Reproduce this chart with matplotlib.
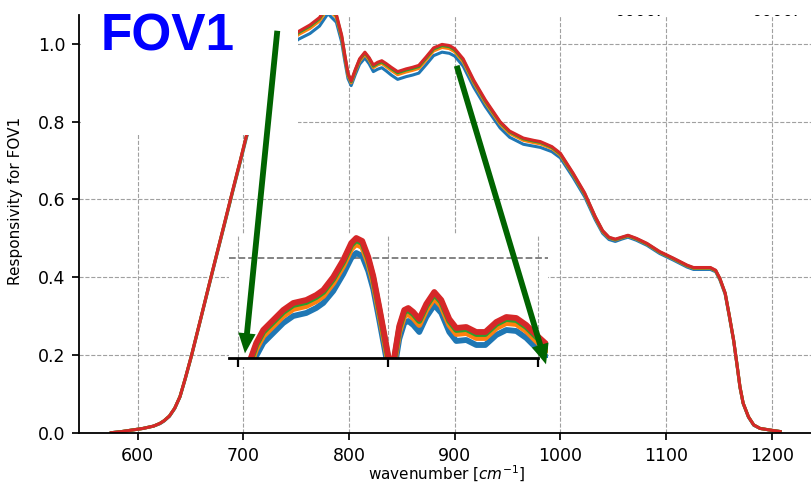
import numpy as np
import matplotlib.pyplot as plt
from matplotlib.patches import Rectangle

# responsivity curves
wavenumber = [575, 585, 595, 605, 615, 621, 625, 630, 635, 640, 645, 651, 660, 668, 675, 682,
              690, 697, 703, 712, 722, 732, 742, 752, 763, 772, 780, 788, 793, 796, 799, 802,
              806, 810, 815, 819, 823, 827, 831, 835, 840, 846, 854, 860, 866, 873, 880, 888,
              895, 900, 908, 918, 929, 943, 952, 965, 975, 981, 992, 1000, 1012, 1023, 1033,
              1040, 1046, 1052, 1058, 1064, 1072, 1082, 1094, 1107, 1120, 1126, 1134, 1142, 1147,
              1151, 1156, 1160, 1164, 1167, 1170, 1173, 1178, 1183, 1189, 1198, 1208]
resp_blue = [0.000, 0.003, 0.007, 0.011, 0.017, 0.023, 0.030, 0.042, 0.062, 0.092, 0.138, 0.198,
             0.296, 0.383, 0.459, 0.534, 0.621, 0.695, 0.760, 0.835, 0.906, 0.958, 0.989, 1.012,
             1.027, 1.046, 1.078, 1.056, 1.005, 0.956, 0.911, 0.893, 0.922, 0.948, 0.964, 0.949,
             0.929, 0.935, 0.939, 0.931, 0.920, 0.909, 0.916, 0.920, 0.925, 0.947, 0.970, 0.979,
             0.976, 0.969, 0.943, 0.889, 0.839, 0.784, 0.760, 0.742, 0.737, 0.734, 0.723, 0.707,
             0.657, 0.607, 0.548, 0.513, 0.497, 0.492, 0.498, 0.503, 0.495, 0.482, 0.461, 0.444,
             0.426, 0.420, 0.420, 0.420, 0.414, 0.393, 0.356, 0.297, 0.236, 0.177, 0.116, 0.075,
             0.040, 0.019, 0.011, 0.007, 0.003]
resp_orange = [0.000, 0.003, 0.007, 0.011, 0.017, 0.024, 0.031, 0.043, 0.063, 0.093, 0.139, 0.199,
               0.297, 0.385, 0.461, 0.536, 0.623, 0.698, 0.764, 0.841, 0.914, 0.968, 1.000, 1.024,
               1.040, 1.059, 1.091, 1.068, 1.016, 0.966, 0.919, 0.900, 0.930, 0.956, 0.973, 0.959,
               0.939, 0.946, 0.950, 0.942, 0.932, 0.921, 0.928, 0.932, 0.937, 0.959, 0.982, 0.991,
               0.988, 0.980, 0.954, 0.900, 0.849, 0.794, 0.770, 0.752, 0.746, 0.743, 0.731, 0.714,
               0.664, 0.613, 0.553, 0.517, 0.501, 0.496, 0.501, 0.506, 0.498, 0.485, 0.464, 0.447,
               0.429, 0.423, 0.423, 0.423, 0.416, 0.395, 0.358, 0.299, 0.237, 0.178, 0.117, 0.076,
               0.041, 0.020, 0.011, 0.007, 0.003]
resp_green = [0.000, 0.003, 0.007, 0.011, 0.017, 0.024, 0.031, 0.043, 0.063, 0.093, 0.140, 0.200,
              0.298, 0.386, 0.462, 0.537, 0.624, 0.699, 0.765, 0.843, 0.918, 0.972, 1.005, 1.029,
              1.046, 1.065, 1.097, 1.073, 1.020, 0.970, 0.923, 0.903, 0.933, 0.960, 0.977, 0.963,
              0.943, 0.950, 0.954, 0.947, 0.937, 0.926, 0.933, 0.937, 0.942, 0.964, 0.987, 0.996,
              0.993, 0.985, 0.959, 0.904, 0.853, 0.798, 0.774, 0.756, 0.750, 0.747, 0.734, 0.717,
              0.666, 0.615, 0.555, 0.519, 0.502, 0.497, 0.502, 0.507, 0.499, 0.486, 0.465, 0.448,
              0.430, 0.424, 0.424, 0.424, 0.417, 0.396, 0.359, 0.300, 0.238, 0.179, 0.118, 0.076,
              0.041, 0.020, 0.011, 0.007, 0.003]
resp_red = [0.000, 0.003, 0.007, 0.011, 0.017, 0.024, 0.031, 0.043, 0.063, 0.093, 0.140, 0.200,
            0.298, 0.386, 0.462, 0.538, 0.625, 0.700, 0.766, 0.845, 0.920, 0.975, 1.008, 1.032,
            1.049, 1.068, 1.100, 1.076, 1.023, 0.972, 0.925, 0.905, 0.935, 0.962, 0.979, 0.965,
            0.946, 0.953, 0.957, 0.950, 0.940, 0.929, 0.936, 0.940, 0.945, 0.967, 0.990, 0.999,
            0.996, 0.988, 0.962, 0.907, 0.856, 0.800, 0.776, 0.758, 0.752, 0.749, 0.736, 0.719,
            0.668, 0.617, 0.556, 0.520, 0.503, 0.498, 0.503, 0.508, 0.500, 0.487, 0.466, 0.449,
            0.431, 0.425, 0.425, 0.425, 0.418, 0.397, 0.359, 0.300, 0.238, 0.179, 0.118, 0.076,
            0.041, 0.020, 0.011, 0.007, 0.003]

# zoomed view of the curve tops (inset)
inset_wavenumber = [700, 706, 713, 718, 725, 735, 745, 755, 768, 778, 785, 795, 805, 813, 818, 824,
                    830, 835, 841, 846, 850, 853, 856, 861, 866, 870, 875, 881, 888, 896, 903, 911,
                    918, 928, 938, 947, 958, 968, 978, 988, 998, 1008]
inset_blue = [0.857, 0.872, 0.888, 0.902, 0.915, 0.925, 0.935, 0.942, 0.945, 0.950, 0.955, 0.967,
              0.984, 1.000, 1.005, 1.002, 0.987, 0.969, 0.938, 0.911, 0.889, 0.872, 0.888, 0.919,
              0.935, 0.937, 0.933, 0.926, 0.941, 0.953, 0.945, 0.926, 0.917, 0.918, 0.913, 0.913,
              0.923, 0.928, 0.927, 0.920, 0.910, 0.901]
inset_orange = [0.864, 0.879, 0.895, 0.909, 0.922, 0.932, 0.942, 0.949, 0.952, 0.957, 0.962, 0.975,
                0.992, 1.009, 1.014, 1.011, 0.995, 0.976, 0.945, 0.918, 0.896, 0.879, 0.895, 0.926,
                0.942, 0.944, 0.940, 0.933, 0.948, 0.960, 0.952, 0.933, 0.924, 0.925, 0.920, 0.920,
                0.930, 0.935, 0.934, 0.927, 0.917, 0.908]
inset_green = [0.868, 0.883, 0.899, 0.913, 0.926, 0.936, 0.946, 0.953, 0.956, 0.961, 0.966, 0.979,
               0.996, 1.013, 1.018, 1.015, 0.999, 0.980, 0.949, 0.922, 0.900, 0.883, 0.899, 0.930,
               0.946, 0.948, 0.944, 0.937, 0.952, 0.964, 0.956, 0.937, 0.928, 0.929, 0.924, 0.924,
               0.934, 0.939, 0.938, 0.931, 0.921, 0.912]
inset_red = [0.870, 0.885, 0.901, 0.915, 0.928, 0.938, 0.948, 0.955, 0.958, 0.963, 0.968, 0.981,
             0.998, 1.015, 1.020, 1.017, 1.001, 0.982, 0.951, 0.924, 0.902, 0.885, 0.901, 0.932,
             0.948, 0.950, 0.946, 0.939, 0.954, 0.966, 0.958, 0.939, 0.930, 0.931, 0.926, 0.926,
             0.936, 0.941, 0.940, 0.933, 0.923, 0.914]

x_ticks = [600, 700, 800, 900, 1000, 1100, 1200]
y_ticks = [0.0, 0.2, 0.4, 0.6, 0.8, 1.0]
inset_ticks = [700, 850, 1000]
colors = ['#1f77b4', '#ff7f0e', '#2ca02c', '#d62728']
arrow_green = '#006400'

fig = plt.figure(figsize=(8.11, 4.82), dpi=100)
ax = fig.add_axes([79.3 / 811, 49.3 / 482, 735.7 / 811, 417.7 / 482])

for y, c in zip([resp_blue, resp_orange, resp_green, resp_red], colors):
    ax.plot(wavenumber, y, color=c, lw=2.2, zorder=2, solid_joinstyle='round')

ax.set_xlim(544.7, 1241)
ax.set_ylim(0, 1.0746)
ax.set_xticks(x_ticks)
ax.set_yticks(y_ticks)
ax.set_yticklabels([f"{v:.1f}" for v in y_ticks])
ax.grid(ls='--', color='#a0a0a0', lw=0.8)
ax.spines[['top', 'right']].set_visible(False)
for s in ['left', 'bottom']:
    ax.spines[s].set_linewidth(1.3)
ax.tick_params(direction='out', length=5, width=1.25, labelsize=12.5, pad=5)

ax.set_xlabel("wavenumber [$cm^{-1}$]", fontsize=11)
ax.xaxis.set_label_coords(0.5, -0.0737)
ax.set_ylabel("Responsivity for FOV1", fontsize=11)
ax.yaxis.set_label_coords(-0.076, 0.555)

# cut-off bits of the panel above
ax.text(1051.7, 1.0708, "0000.", fontsize=12, va='baseline', clip_on=True)
ax.text(1181.3, 1.0708, "0000.", fontsize=12, va='baseline', clip_on=True)

# white boxes hiding part of the main plot
ax.add_patch(Rectangle((546.3, 0.765), 205.7, 0.4, facecolor='white', edgecolor='none', zorder=4))
ax.add_patch(Rectangle((686.3, 0.169), 302, 0.339, facecolor='white', edgecolor='none', zorder=4))

# inset
ax_in = ax.inset_axes([686.3, 0.1922, 302, 0.3164], transform=ax.transData)
for y, c in zip([inset_blue, inset_orange, inset_green, inset_red], colors):
    ax_in.plot(inset_wavenumber, y, color=c, lw=4.2, solid_joinstyle='round')
ax_in.set_xlim(690.7, 1009.7)
ax_in.set_ylim(0.9, 1.023)
ax_in.set_xticks(inset_ticks)
ax_in.set_yticks([1.0])
ax_in.set_xticklabels([])
ax_in.set_yticklabels([])
ax_in.tick_params(axis='x', direction='out', length=6.5, width=1.6)
ax_in.tick_params(axis='y', length=0)
ax_in.grid(axis='x', ls='--', color='#a0a0a0', lw=0.8)
ax_in.grid(axis='y', ls='--', color='#7a7a7a', lw=1.3)
ax_in.spines[['top', 'right', 'left']].set_visible(False)
ax_in.spines['bottom'].set_linewidth(2)
ax_in.spines['bottom'].set_bounds(690.7, 1000)

# arrows from the curve tops down to the inset
arrow_style = "simple,head_length=1.45,head_width=1.25,tail_width=0.42"
ax.annotate('', xy=(701.5, 0.204), xytext=(732.1, 1.034),
            arrowprops=dict(arrowstyle=arrow_style, mutation_scale=10, color=arrow_green,
                            lw=0, shrinkA=0, shrinkB=0), zorder=7, annotation_clip=False)
ax.annotate('', xy=(986.4, 0.176), xytext=(901.9, 0.944),
            arrowprops=dict(arrowstyle=arrow_style, mutation_scale=10, color=arrow_green,
                            lw=0, shrinkA=0, shrinkB=0), zorder=7, annotation_clip=False)

ax.text(565, 0.983, "FOV1", fontsize=37, fontweight='bold', family='Liberation Sans',
        color='#0000ff', va='baseline', zorder=8)

fig.savefig("out.png", dpi=100)
